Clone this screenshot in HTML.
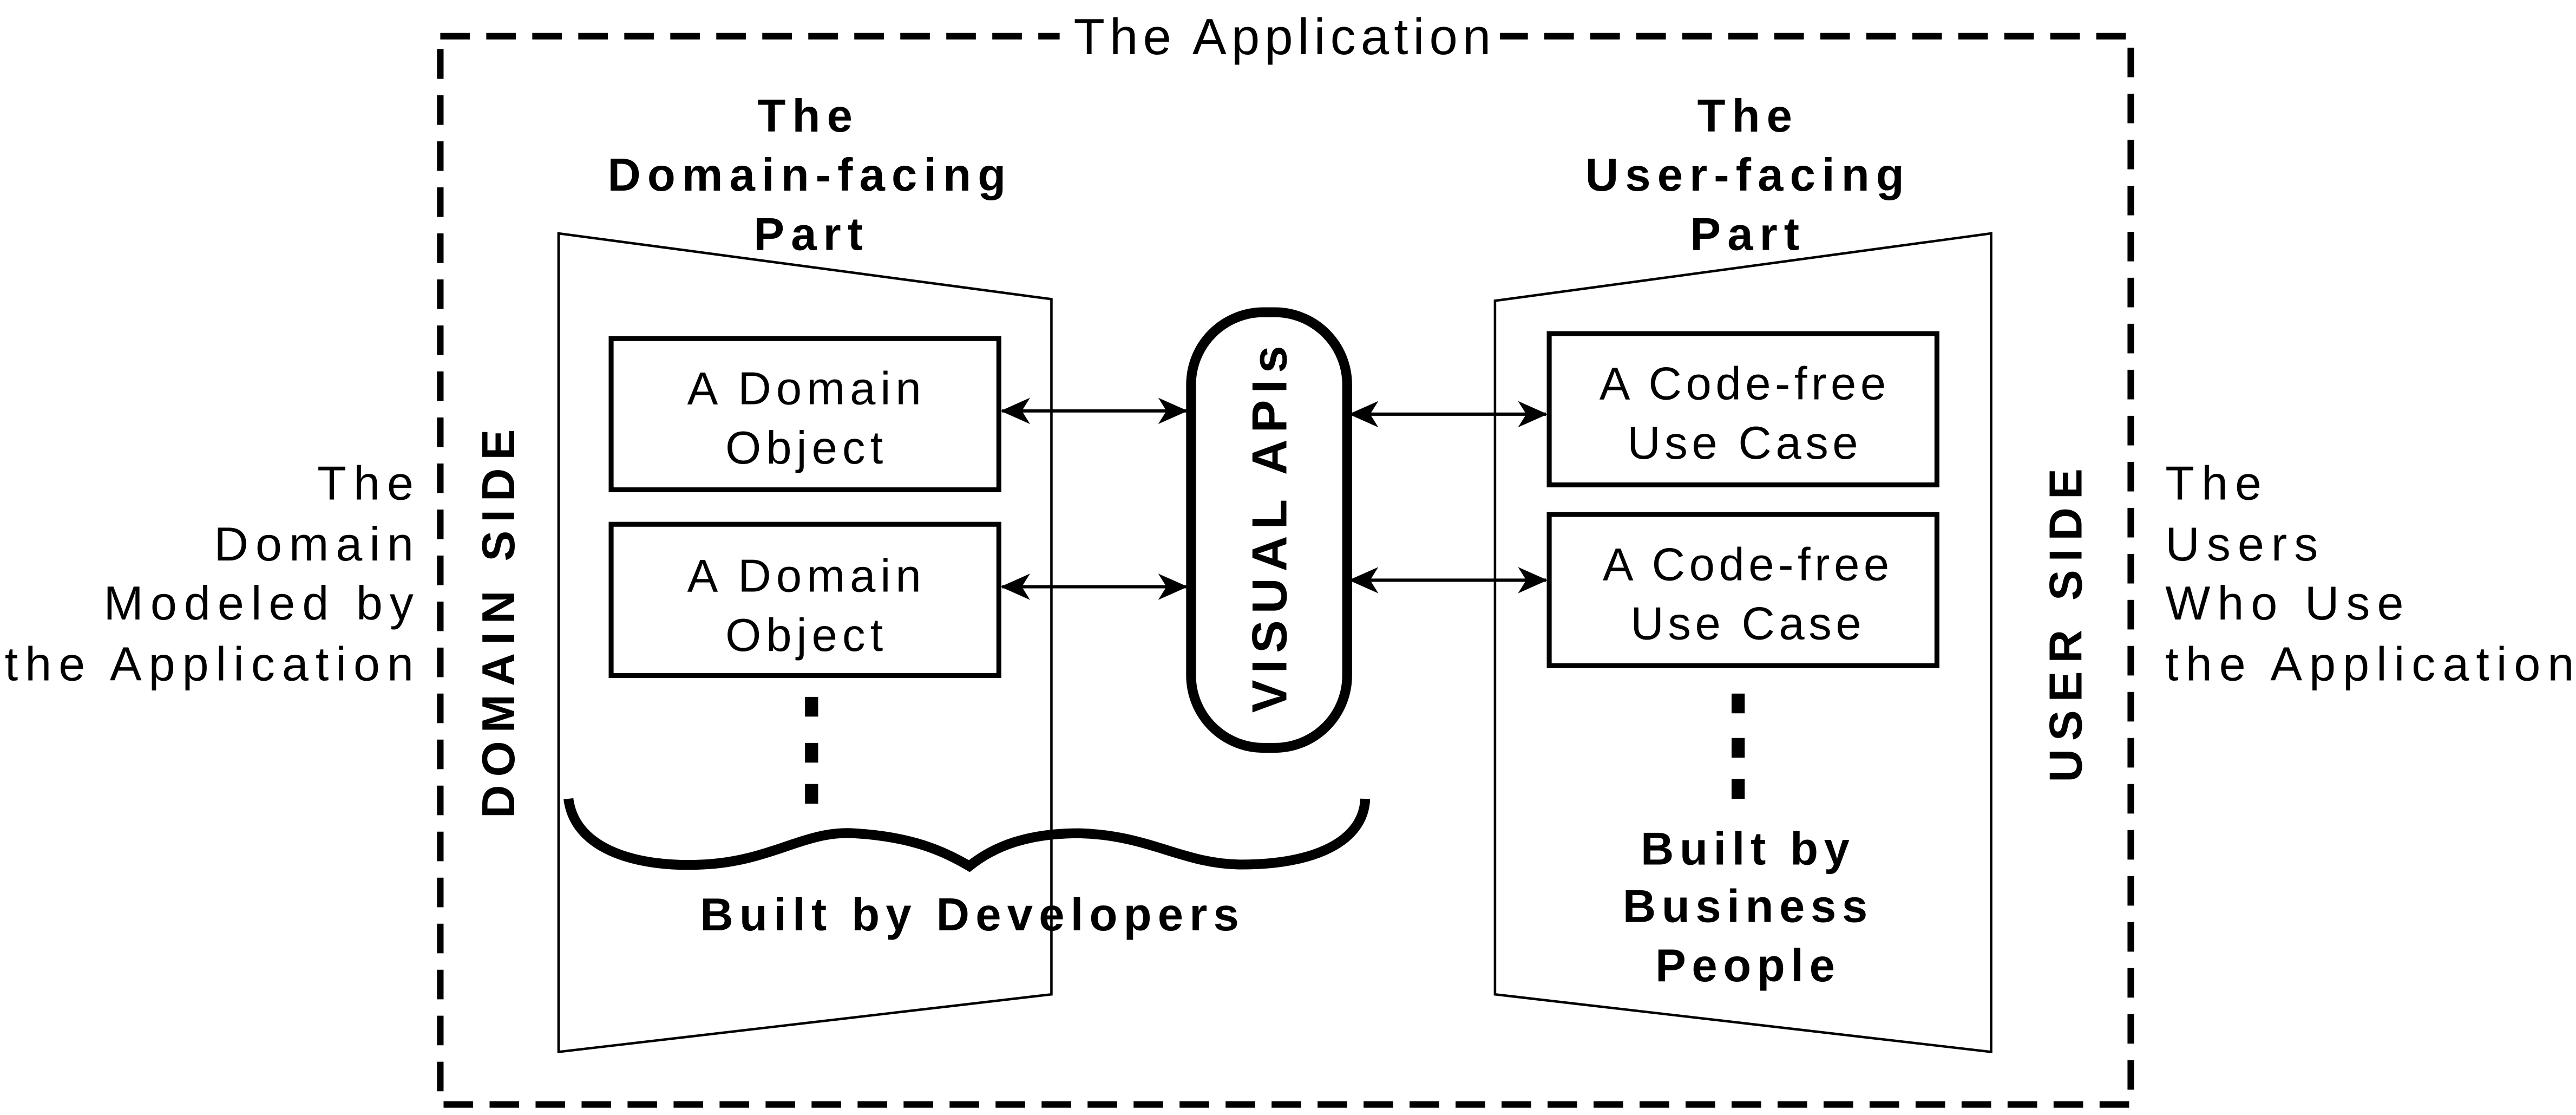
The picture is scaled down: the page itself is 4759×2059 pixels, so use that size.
<!DOCTYPE html>
<html><head><style>
html,body{margin:0;padding:0;background:#fff;}
svg{display:block;}
text{font-family:"Liberation Sans",Arial,sans-serif;fill:#000;}
.b{font-weight:bold;}
</style></head><body>
<svg width="4759" height="2059" viewBox="0 0 1568 678.4" preserveAspectRatio="none" xmlns="http://www.w3.org/2000/svg">
<defs>
<marker id="ah" markerWidth="18" markerHeight="16" refX="17" refY="8" orient="auto-start-reverse" markerUnits="userSpaceOnUse">
<path d="M0,0 L18,8 L0,16 L5,8 Z" fill="#000"/>
</marker>
</defs>
<rect x="0" y="0" width="1568" height="678.4" fill="#fff"/>
<rect x="268" y="22" width="1029" height="650" fill="none" stroke="#000" stroke-width="4" stroke-dasharray="18,10"/>
<rect x="645" y="4" width="268" height="36" fill="#fff"/>
<text x="782" y="33" font-size="31" text-anchor="middle" letter-spacing="3">The Application</text>

<polygon points="340,142 640,182 640,605 340,640" fill="none" stroke="#000" stroke-width="1.5"/>
<polygon points="910,183 1212,142 1212,640 910,605" fill="none" stroke="#000" stroke-width="1.5"/>

<text class="b" x="492" y="80" text-anchor="middle" font-size="28" letter-spacing="4">The</text>
<text class="b" x="493" y="116" text-anchor="middle" font-size="28" letter-spacing="4">Domain-facing</text>
<text class="b" x="494" y="152" text-anchor="middle" font-size="28" letter-spacing="4">Part</text>
<text class="b" x="1064" y="80" text-anchor="middle" font-size="28" letter-spacing="4">The</text>
<text class="b" x="1064" y="116" text-anchor="middle" font-size="28" letter-spacing="4">User-facing</text>
<text class="b" x="1064" y="152" text-anchor="middle" font-size="28" letter-spacing="4">Part</text>

<rect x="372" y="206" width="236" height="92" fill="#fff" stroke="#000" stroke-width="3"/>
<rect x="372" y="319" width="236" height="92" fill="#fff" stroke="#000" stroke-width="3"/>
<rect x="943" y="203" width="236" height="92" fill="#fff" stroke="#000" stroke-width="3"/>
<rect x="943" y="313" width="236" height="92" fill="#fff" stroke="#000" stroke-width="3"/>
<text x="491" y="246" text-anchor="middle" font-size="28" letter-spacing="3">A Domain</text>
<text x="491" y="282" text-anchor="middle" font-size="28" letter-spacing="3">Object</text>
<text x="491" y="360" text-anchor="middle" font-size="28" letter-spacing="3">A Domain</text>
<text x="491" y="396" text-anchor="middle" font-size="28" letter-spacing="3">Object</text>
<text x="1062" y="243" text-anchor="middle" font-size="28" letter-spacing="2.5">A Code-free</text>
<text x="1062" y="279" text-anchor="middle" font-size="28" letter-spacing="2.5">Use Case</text>
<text x="1064" y="353" text-anchor="middle" font-size="28" letter-spacing="2.5">A Code-free</text>
<text x="1064" y="389" text-anchor="middle" font-size="28" letter-spacing="2.5">Use Case</text>

<rect x="725" y="190" width="95" height="265" rx="44" ry="44" fill="#fff" stroke="#000" stroke-width="6"/>
<text class="b" transform="translate(783,320) rotate(-90)" text-anchor="middle" font-size="30" letter-spacing="4">VISUAL APIs</text>

<g stroke="#000" stroke-width="2" marker-start="url(#ah)" marker-end="url(#ah)">
<line x1="610" y1="250" x2="722" y2="250"/>
<line x1="610" y1="357" x2="722" y2="357"/>
<line x1="822" y1="252" x2="941" y2="252"/>
<line x1="822" y1="353" x2="941" y2="353"/>
</g>

<g fill="#000">
<rect x="490" y="424" width="8" height="12"/>
<rect x="490" y="452" width="8" height="12"/>
<rect x="490" y="477" width="8" height="12"/>
<rect x="1054" y="422" width="8" height="12"/>
<rect x="1054" y="449" width="8" height="12"/>
<rect x="1054" y="474" width="8" height="12"/>
</g>

<path d="M346,486 C350,518 390,528 428,526 C470,524 490,505 520,507 C555,509 575,518 590,527 C605,515 625,507 657,507 C700,508 720,526 756,526 C800,526 830,512 831,486" fill="none" stroke="#000" stroke-width="6"/>

<text class="b" x="592" y="566" text-anchor="middle" font-size="28" letter-spacing="3.7">Built by Developers</text>
<text class="b" x="1064" y="526" text-anchor="middle" font-size="28" letter-spacing="3.5">Built by</text>
<text class="b" x="1064" y="561" text-anchor="middle" font-size="28" letter-spacing="3.5">Business</text>
<text class="b" x="1064" y="597" text-anchor="middle" font-size="28" letter-spacing="3.5">People</text>

<text class="b" transform="translate(313,377) rotate(-90)" text-anchor="middle" font-size="28" letter-spacing="5">DOMAIN SIDE</text>
<text class="b" transform="translate(1267,378) rotate(-90)" text-anchor="middle" font-size="28" letter-spacing="5">USER SIDE</text>

<text x="256" y="304" text-anchor="end" font-size="29" letter-spacing="4.3">The</text>
<text x="256" y="341" text-anchor="end" font-size="29" letter-spacing="4.3">Domain</text>
<text x="256" y="377" text-anchor="end" font-size="29" letter-spacing="4.3">Modeled by</text>
<text x="256" y="414" text-anchor="end" font-size="29" letter-spacing="4.3">the Application</text>
<text x="1318" y="304" font-size="29" letter-spacing="4.3">The</text>
<text x="1318" y="341" font-size="29" letter-spacing="4.3">Users</text>
<text x="1318" y="377" font-size="29" letter-spacing="4.3">Who Use</text>
<text x="1318" y="414" font-size="29" letter-spacing="4.3">the Application</text>
</svg>
</body></html>
